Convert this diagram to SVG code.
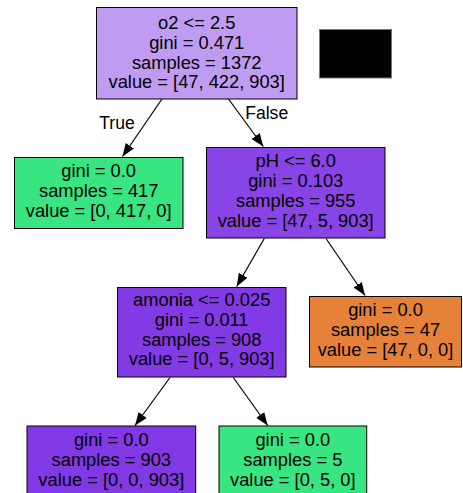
<svg xmlns="http://www.w3.org/2000/svg" width="463" height="493" viewBox="0 0 463 493">
<style>
.box{stroke:#000;stroke-width:1}
text{font-family:"Liberation Sans",Arial,sans-serif;font-size:18.3px;fill:#000;text-anchor:middle}
.lbl{font-size:17.6px}
.edge{stroke:#000;stroke-width:1.2;fill:none;marker-end:url(#arr)}
</style>
<defs>
<marker id="arr" markerUnits="userSpaceOnUse" markerWidth="14" markerHeight="12" viewBox="0 -6 14 12" refX="13" refY="0" orient="auto">
<path d="M0,-5 L13,0 L0,5 z" fill="#000"/>
</marker>
</defs>
<rect width="463" height="493" fill="#fff"/>
<g id="edges">
<line class="edge" x1="162" y1="99" x2="122.5" y2="156.5"/>
<line class="edge" x1="228.5" y1="99" x2="263.3" y2="146.5"/>
<line class="edge" x1="264.3" y1="238.5" x2="236.7" y2="286.5"/>
<line class="edge" x1="326" y1="238.5" x2="365" y2="295.5"/>
<line class="edge" x1="170" y1="377.5" x2="135" y2="425.5"/>
<line class="edge" x1="233.3" y1="377.5" x2="267.7" y2="425.5"/>
<text class="lbl" x="117" y="129">True</text>
<text class="lbl" x="266.7" y="118.5">False</text>
</g>
<g id="node0">
<rect class="box" x="96.5" y="7.5" width="200.5" height="91.5" fill="#bf9bf2"/>
<text x="196.7" y="29">o2 &lt;= 2.5</text>
<text x="196.7" y="49">gini = 0.471</text>
<text x="196.7" y="68.7">samples = 1372</text>
<text x="196.7" y="88.3">value = [47, 422, 903]</text>
</g>
<g id="node1">
<rect class="box" x="14.5" y="157.5" width="168.5" height="71" fill="#39e581"/>
<text x="98.7" y="176.5">gini = 0.0</text>
<text x="98.7" y="196.5">samples = 417</text>
<text x="98.7" y="216.5">value = [0, 417, 0]</text>
</g>
<g id="node2">
<rect class="box" x="206.5" y="147.5" width="178.5" height="90.5" fill="#8844e6"/>
<text x="295.7" y="167">pH &lt;= 6.0</text>
<text x="295.7" y="187">gini = 0.103</text>
<text x="295.7" y="207">samples = 955</text>
<text x="295.7" y="226.7">value = [47, 5, 903]</text>
</g>
<g id="node3">
<rect class="box" x="117.5" y="287.5" width="168.5" height="89.5" fill="#823ae5"/>
<text x="201.7" y="306">amonia &lt;= 0.025</text>
<text x="201.7" y="325.7">gini = 0.011</text>
<text x="201.7" y="345.5">samples = 908</text>
<text x="201.7" y="365">value = [0, 5, 903]</text>
</g>
<g id="node4">
<rect class="box" x="309.5" y="296.5" width="152" height="70.5" fill="#e58139"/>
<text x="385.5" y="316">gini = 0.0</text>
<text x="385.5" y="336">samples = 47</text>
<text x="385.5" y="355.7">value = [47, 0, 0]</text>
</g>
<g id="node5">
<rect class="box" x="27" y="426" width="168.7" height="80" fill="#8139e5"/>
<text x="111.3" y="446">gini = 0.0</text>
<text x="111.3" y="466">samples = 903</text>
<text x="111.3" y="485.5">value = [0, 0, 903]</text>
</g>
<g id="node6">
<rect class="box" x="219" y="426" width="147.7" height="80" fill="#39e581"/>
<text x="292.8" y="446">gini = 0.0</text>
<text x="292.8" y="466">samples = 5</text>
<text x="292.8" y="485.5">value = [0, 5, 0]</text>
</g>
<rect x="319.5" y="29.5" width="72" height="48.5" fill="#000" stroke="#777" stroke-width="1"/>
</svg>
